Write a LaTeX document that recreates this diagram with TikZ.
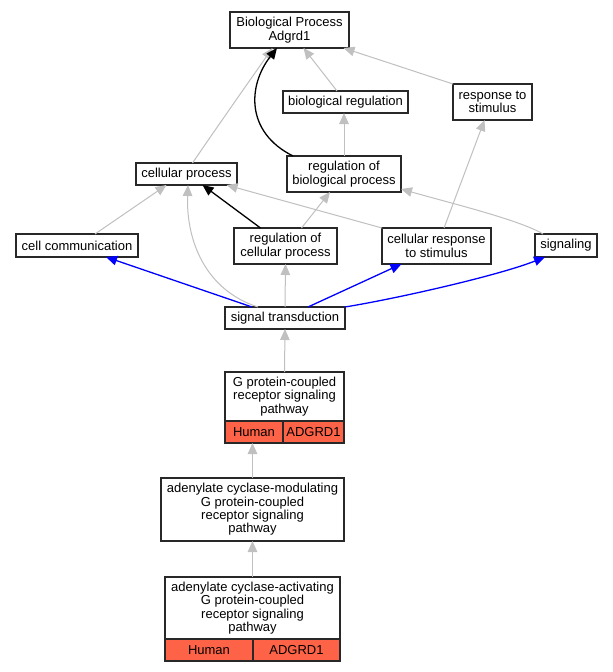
\documentclass[tikz,border=0pt]{standalone}
\usepackage{fontspec}
\setmainfont{Liberation Sans}
\usetikzlibrary{arrows.meta,calc}
\definecolor{tomato}{RGB}{255,99,71}
\definecolor{edgegray}{RGB}{192,192,192}
\definecolor{boxline}{RGB}{40,40,40}
\begin{document}
\begin{tikzpicture}[x=1pt,y=-1pt,
  box/.style={draw=boxline, line width=1.3pt, fill=white, inner sep=0pt, outer sep=0pt,
    align=center, font=\fontsize{13}{13.4}\selectfont},
  cell/.style={box, fill=tomato},
  tipshape/.style={-{Triangle[length=11pt,width=9.5pt]}},
  gedge/.style={draw=edgegray, line width=1pt, tipshape},
  kedge/.style={draw=black, line width=1.3pt, tipshape},
  bedge/.style={draw=blue, line width=1.3pt, tipshape}]
\fill[white] (0,0) rectangle (613,672);
\useasboundingbox (0,0) rectangle (613,672);

% nodes
\node[box, minimum width=119pt, minimum height=36pt] (bp) at (289.5,30) {Biological Process\\Adgrd1};
\node[box, minimum width=125pt, minimum height=22pt] (breg) at (345.5,102) {biological regulation};
\node[box, minimum width=79pt, minimum height=36pt] (rstim) at (492.5,102) {response to\\stimulus};
\node[box, minimum width=101pt, minimum height=22pt] (cproc) at (186.5,174) {cellular process};
\node[box, minimum width=114pt, minimum height=36pt] (rbp) at (344,174) {regulation of\\biological process};
\node[box, minimum width=122pt, minimum height=23pt] (ccomm) at (77,245.5) {cell communication};
\node[box, minimum width=103pt, minimum height=36pt] (rcp) at (285.5,246) {regulation of\\cellular process};
\node[box, minimum width=109pt, minimum height=36pt] (crs) at (436.5,246) {cellular response\\to stimulus};
\node[box, minimum width=62pt, minimum height=23pt] (sig) at (566,245.5) {signaling};
\node[box, minimum width=120pt, minimum height=22pt] (st) at (285,318) {signal transduction};

\node[box, minimum width=119pt, minimum height=49pt] (gpcr) at (284.5,396.5) {G protein-coupled\\receptor signaling\\pathway};
\node[cell, minimum width=58pt, minimum height=22pt] (gpcrH) at (254,432) {Human};
\node[cell, minimum width=61pt, minimum height=22pt] (gpcrA) at (313.5,432) {ADGRD1};

\node[box, minimum width=183pt, minimum height=63pt] (acm) at (252.5,509.5) {adenylate cyclase-modulating\\G protein-coupled\\receptor signaling\\pathway};

\node[box, minimum width=175pt, minimum height=62pt] (aca) at (252.5,608) {adenylate cyclase-activating\\G protein-coupled\\receptor signaling\\pathway};
\node[cell, minimum width=88pt, minimum height=22pt] (acaH) at (209,650) {Human};
\node[cell, minimum width=87pt, minimum height=22pt] (acaA) at (296.5,650) {ADGRD1};

% edges
\draw[gedge] ([xshift=-8.5pt]breg.north) -- ([xshift=14pt]bp.south);
\draw[gedge] (rstim.north west) -- ([xshift=54pt]bp.south);
\draw[gedge] ([xshift=6pt]cproc.north) .. controls (215,130) and (250,80) .. ([xshift=-17pt]bp.south);
\draw[kedge] ([xshift=-51pt]rbp.north) .. controls (245,132) and (248,85) .. ([xshift=-12.5pt]bp.south);
\draw[gedge] (rbp.north) -- (rbp.north |- breg.south);
\draw[gedge] ([xshift=7.5pt]crs.north) -- ([xshift=-8pt]rstim.south);
\draw[gedge] ([xshift=18pt]ccomm.north) -- ([xshift=-20pt]cproc.south);
\draw[gedge] ([xshift=-27pt]st.north) .. controls (205,290) and (186,240) .. ([xshift=1.5pt]cproc.south);
\draw[kedge] ([xshift=-25pt]rcp.north) -- ([xshift=16pt]cproc.south);
\draw[gedge] (crs.north west) -- ([xshift=40pt]cproc.south);
\draw[gedge] ([xshift=16pt]rcp.north) -- ([xshift=-14pt]rbp.south);
\draw[gedge] ([xshift=-23pt]sig.north) .. controls (520,220) and (450,203) .. ([yshift=3pt]rbp.south east);
\draw[gedge] (st.north) -- (rcp.south);
\draw[bedge] ([xshift=-33pt]st.north) -- ([xshift=29pt]ccomm.south);
\draw[bedge] ([xshift=23pt]st.north) -- ([xshift=-35pt]crs.south);
\draw[bedge] (st.north east) .. controls (400,298) and (500,275) .. ([xshift=-21pt]sig.south);
\draw[gedge] (gpcr.north) -- (st.south);
\draw[gedge] (acm.north) -- (acm.north |- gpcrH.south);
\draw[gedge] (aca.north) -- (acm.south);
\end{tikzpicture}
\end{document}
